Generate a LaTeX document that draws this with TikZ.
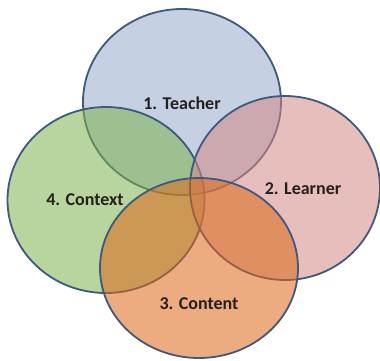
\documentclass[tikz,border=0pt]{standalone}
\usepackage{fontspec}
\setmainfont{Carlito}
\usetikzlibrary{shapes.geometric}

\definecolor{teacherblue}{RGB}{150,171,204}
\definecolor{learnerpink}{RGB}{210,137,133}
\definecolor{contextgreen}{RGB}{124,179,75}
\definecolor{contentorange}{RGB}{220,104,24}
\definecolor{rimblue}{RGB}{62,88,128}
\definecolor{labelgray}{RGB}{35,32,30}

\begin{document}
\begin{tikzpicture}[x=1pt,y=-1pt]

        \useasboundingbox (0,0) rectangle (380,360);

        \begin{scope}[every node/.style={ellipse,draw=rimblue,line width=1.8pt,fill opacity=.55,inner sep=0pt}]
          \node[fill=teacherblue,minimum width=198pt,minimum height=186pt]   (1) at (182,102) {};
          \node[fill=contextgreen,minimum width=197pt,minimum height=186pt]  (4) at (106,200) {};
          \node[fill=learnerpink,minimum width=190pt,minimum height=184pt]   (2) at (285,188) {};
          \node[fill=contentorange,minimum width=198pt,minimum height=180pt] (3) at (199,268) {};
        \end{scope}

        \begin{scope}[every node/.style={font=\bfseries\fontsize{18}{20}\selectfont,text=labelgray}]
          \node (t1) at (182,103) {1. Teacher};
          \node (t2) at (303,189) {2. Learner};
          \node (t3) at (199,304) {3. Content};
          \node (t4) at (85,200)  {4. Context};
        \end{scope}

      \end{tikzpicture}
\end{document}
